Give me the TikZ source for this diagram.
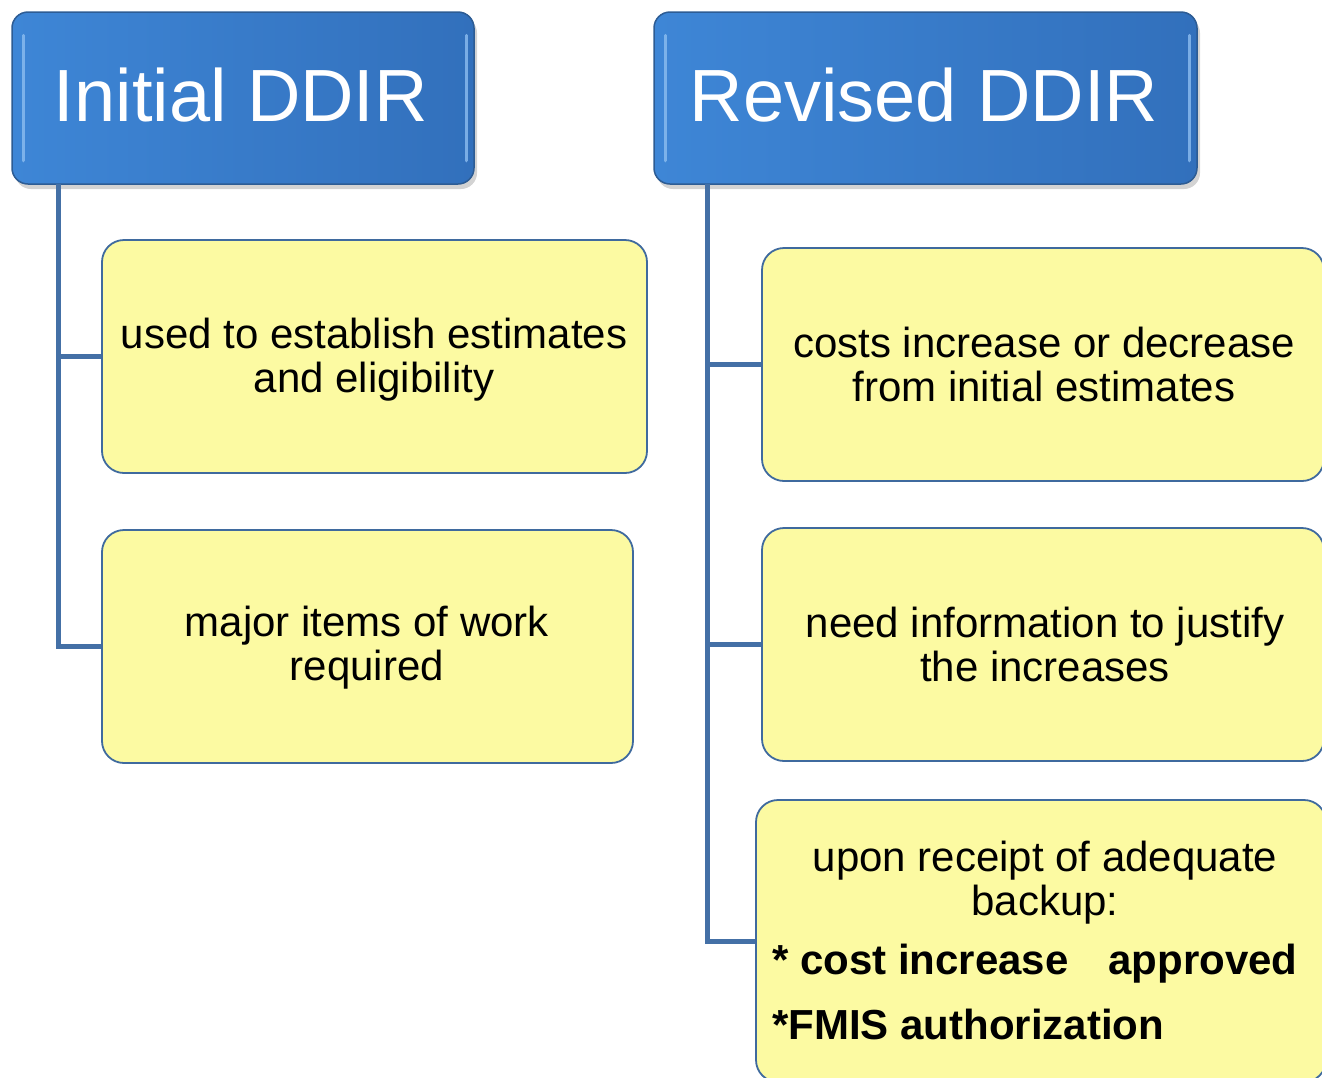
\documentclass[tikz,border=0pt]{standalone}
\usepackage{fontspec}
\setmainfont{Liberation Sans}
\usetikzlibrary{calc,shadows}
\definecolor{hdrA}{HTML}{3E86D6}
\definecolor{hdrB}{HTML}{3270BC}
\definecolor{hdrEdge}{HTML}{2D5C94}
\definecolor{hdrLight}{HTML}{8CBDF0}
\definecolor{connC}{HTML}{4470A6}
\definecolor{boxFill}{HTML}{FCFAA2}
\definecolor{boxEdge}{HTML}{3F6A9E}
\tikzset{
  hdr/.style={draw=hdrEdge, line width=1.5pt, rounded corners=16pt, left color=hdrA, right color=hdrB,
    inner sep=0pt,
    drop shadow={opacity=0.35, shadow xshift=3pt, shadow yshift=-5pt}},
  htxt/.style={text=white, font=\fontsize{74}{78}\selectfont},
  ybox/.style={draw=boxEdge, line width=1.8pt, rounded corners=22pt, fill=boxFill, inner sep=0pt},
  conn/.style={draw=connC, line width=5pt},
  bevel/.style={draw=hdrLight, line width=3pt, line cap=round, opacity=0.8},
  btxt/.style={font=\fontsize{42}{44}\selectfont, align=center},
  bbold/.style={font=\fontsize{42}{44}\selectfont\bfseries, anchor=west, inner sep=0pt}
}
\begin{document}
\begin{tikzpicture}[x=1pt,y=-1pt]
\useasboundingbox (0,0) rectangle (1322,1077);
\clip (0,0) rectangle (1322,1077);
\coordinate (lt) at (58,184);
\coordinate (rt) at (707,184);
% headers
\node[hdr, minimum width=462pt, minimum height=172pt] (h1) at (243,98) {};
\node[htxt] (t1) at (241,95) {Initial DDIR};
\node[hdr, minimum width=543pt, minimum height=172pt] (h2) at (925.5,98) {};
\node[htxt] (t2) at (924,95) {Revised DDIR};
% bevel highlights
\draw[bevel] ($(h1.north west)+(12,24)$) -- ($(h1.south west)+(12,-24)$);
\draw[bevel] ($(h1.north east)+(-8,24)$) -- ($(h1.south east)+(-8,-24)$);
\draw[bevel] ($(h2.north west)+(12,24)$) -- ($(h2.south west)+(12,-24)$);
\draw[bevel] ($(h2.north east)+(-8,24)$) -- ($(h2.south east)+(-8,-24)$);
% yellow boxes
\node[ybox, minimum width=545pt, minimum height=233pt] (b1) at (374.5,356.5) {};
\node[btxt] (b1t) at (374,360) {used to establish estimates\\and eligibility};
\node[ybox, minimum width=531pt, minimum height=233pt] (b2) at (367.5,646.5) {};
\node[btxt] (b2t) at (367,648) {major items of work\\required};
\node[ybox, minimum width=562pt, minimum height=233pt] (b3) at (1043,364.5) {};
\node[btxt] (b3t) at (1044,364) {costs increase or decrease\\from initial estimates};
\node[ybox, minimum width=562pt, minimum height=233pt] (b4) at (1043,644.5) {};
\node[btxt] (b4t) at (1045,644) {need information to justify\\the increases};
\node[ybox, minimum width=570pt, minimum height=282pt] (b5) at (1041,941) {};
\node[btxt] (b5t) at (1045,883) {upon receipt of adequate\\backup:};
\node[bbold] (b5a) at (772,964) {* cost increase\hspace{0.95em}approved};
\node[bbold] (b5b) at (772,1024) {*FMIS authorization};
% connectors
\draw[conn] (lt) |- (b1.west);
\draw[conn] (lt) |- (b2.west);
\draw[conn] (rt) |- (b3.west);
\draw[conn] (rt) |- (b4.west);
\draw[conn] (rt) |- (b5.west);
\end{tikzpicture}
\end{document}
